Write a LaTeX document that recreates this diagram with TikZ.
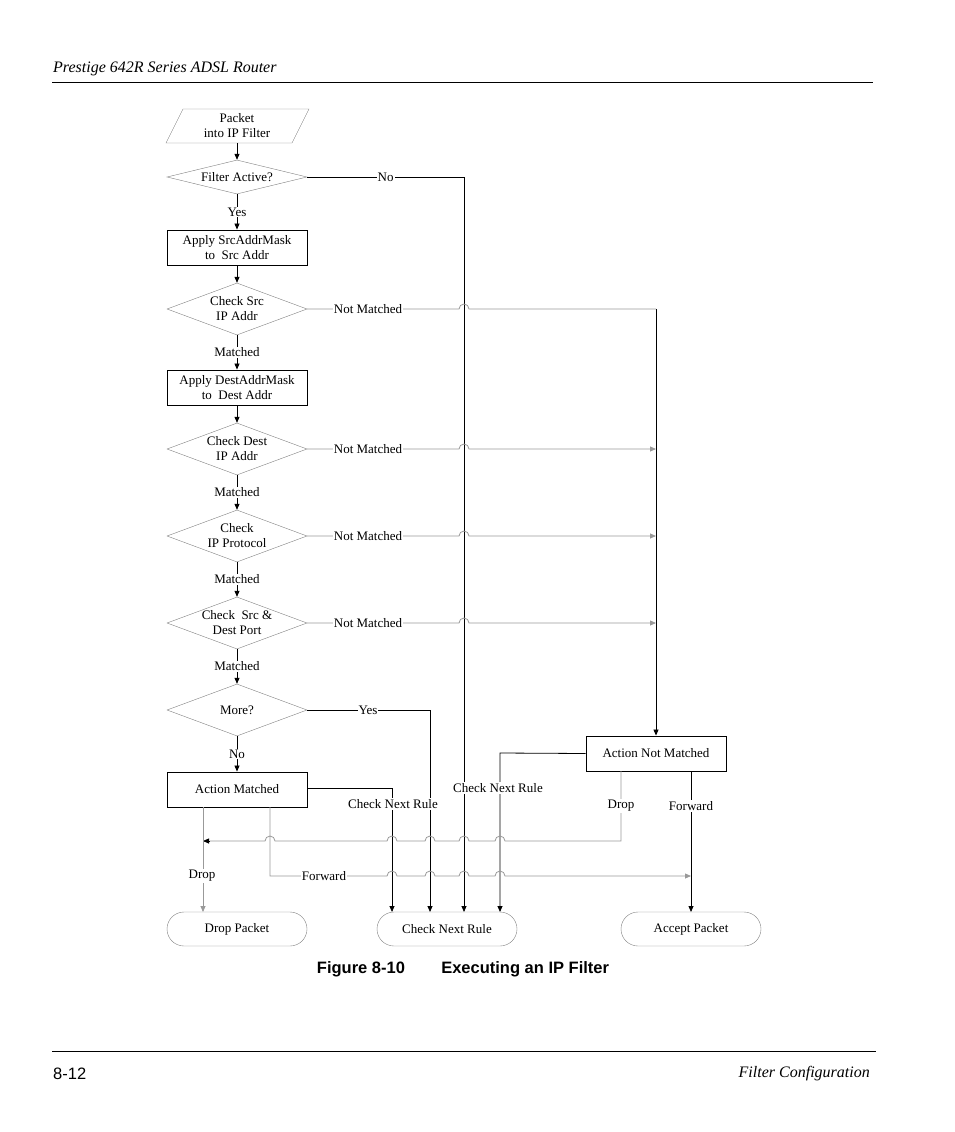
\documentclass[tikz,border=0pt]{standalone}
\usepackage{fontspec}
\setmainfont{Liberation Serif}
\newfontfamily\sansf{Liberation Sans}
\usetikzlibrary{arrows.meta,shapes.geometric}
\begin{document}
\begin{tikzpicture}[x=1pt,y=-1pt,
  every node/.style={font=\fontsize{13}{15}\selectfont, align=center, inner sep=1pt},
  box/.style={draw, line width=0.9pt, minimum width=140pt, minimum height=35pt},
  dia/.style={draw=gray, diamond, aspect=2.7, minimum width=140pt, inner sep=0pt},
  term/.style={draw=gray, rounded corners=17pt, minimum width=140pt, minimum height=34pt},
  lbl/.style={fill=white, inner sep=1pt},
  tip/.style={-{Triangle[length=6pt,width=5pt]}},
  ln/.style={line width=0.8pt},
  gl/.style={draw=gray!80, line width=0.8pt},
]
\useasboundingbox (0,0) rectangle (954,1132);
% header / footer
\node[anchor=west,font=\fontsize{16}{18}\selectfont\itshape] (hdr) at (52,69) {Prestige 642R Series ADSL Router};
\draw[line width=0.6pt] (52,82) coordinate (h1) -- (873,82) coordinate (h2);
\node[font=\sansf\bfseries\fontsize{16.5}{18}\selectfont] (cap) at (463,969) {Figure 8-10\hspace{2.2em}Executing an IP Filter};
\draw[line width=0.6pt] (52,1051) coordinate (f1) -- (876,1051) coordinate (f2);
\node[anchor=west,font=\sansf\fontsize{16.5}{18}\selectfont] (pg) at (52,1074) {8-12};
\node[anchor=east,font=\fontsize{16}{18}\selectfont\itshape] (ch) at (871,1074) {Filter Configuration};

% nodes
\draw[gray] (183,109) -- (309,109) -- (292,143) -- (166,143) -- cycle;
\node (pk) at (237,126) {Packet\\into IP Filter};
\coordinate (pkb) at (237,143);
\node[dia, minimum height=34pt, aspect=4.1] (fa) at (237,177) {Filter Active?};
\node[box] (b1) at (237,247.5) {Apply SrcAddrMask\\to~ Src Addr};
\node[dia, minimum height=52pt] (cs) at (237,309) {Check Src\\IP Addr};
\node[box] (b2) at (237,387.5) {Apply DestAddrMask\\to~ Dest Addr};
\node[dia, minimum height=52pt] (cd) at (237,449) {Check Dest\\IP Addr};
\node[dia, minimum height=52pt] (cp) at (237,536) {Check\\IP Protocol};
\node[dia, minimum height=52pt] (cpt) at (237,623) {Check~ Src \&\\Dest Port};
\node[dia, minimum height=52pt] (mo) at (237,710) {More?};
\node[box] (am) at (237,789.5) {Action Matched};
\node[box] (anm) at (656,753.5) {Action Not Matched};
\node[term] (dp) at (237,929) {Drop Packet};
\node[term] (cn) at (447,929) {Check Next Rule};
\node[term] (ap) at (691,929) {Accept Packet};

% vertical main flow
\draw[ln,tip] (pkb) -- (fa);
\draw[ln,tip] (fa) -- node[lbl]{Yes} (b1);
\draw[ln,tip] (b1) -- (cs);
\draw[ln,tip] (cs) -- node[lbl]{Matched} (b2);
\draw[ln,tip] (b2) -- (cd);
\draw[ln,tip] (cd) -- node[lbl]{Matched} (cp);
\draw[ln,tip] (cp) -- node[lbl]{Matched} (cpt);
\draw[ln,tip] (cpt) -- node[lbl]{Matched} (mo);
\draw[ln,tip] (mo) -- node[lbl]{No} (am);

% Filter Active No
\draw[ln,tip] (fa.east) -- node[lbl,pos=0.5]{No} (464,177) -- (464,912);
% Not matched lines
\draw[gl] (cs.east) -- (464-5,309) arc[start angle=180,end angle=360,radius=5] -- (656,309);
\draw[ln,tip] (656,309) -- (anm.north);
\node[lbl] (nm1) at (368,309) {Not Matched};
\foreach \yy/\nn in {449/cd,536/cp,623/cpt}{
  \draw[gl,tip] (\nn.east) -- (464-5,\yy) arc[start angle=180,end angle=360,radius=5] -- (656,\yy);
  \node[lbl] at (368,\yy) {Not Matched};
}
% More yes
\draw[ln,tip] (mo.east) -- (430,710) -- (430,912);
\node[lbl] (ys) at (368,710) {Yes};
% Action matched -> check next rule
\draw[ln,tip] (am.east|-{(0,788)}) -- (392,788) -- (392,912);
\node[lbl] (c1) at (393,804) {Check Next Rule};
% Action not matched -> check next rule
\draw[ln,tip] (anm.west) -- (500,753) -- (500,912);
\node[lbl] (c2) at (498,788) {Check Next Rule};
% ANM forward
\draw[ln,tip] (691,771) -- (691,912);
\node[lbl] (fw2) at (691,806) {Forward};
% ANM drop
\draw[gl] (621,771) -- (621,841) -- (505,841)
  arc[start angle=360,end angle=180,radius=5] -- (469,841)
  arc[start angle=360,end angle=180,radius=5] -- (435,841)
  arc[start angle=360,end angle=180,radius=5] -- (397,841)
  arc[start angle=360,end angle=180,radius=5] -- (275,841)
  arc[start angle=360,end angle=180,radius=5] -- (210,841);
\draw[ln,tip] (210,841) -- (203,841);
\node[lbl] (dr2) at (621,806) {Drop};
% AM drop
\draw[gl,tip] (203,807) -- (203,912);
\node[lbl] (dr1) at (202,876) {Drop};
% AM forward
\draw[gl,tip] (270,807) -- (270,876) -- (387,876)
  arc[start angle=180,end angle=360,radius=5] -- (425,876)
  arc[start angle=180,end angle=360,radius=5] -- (459,876)
  arc[start angle=180,end angle=360,radius=5] -- (495,876)
  arc[start angle=180,end angle=360,radius=5] -- (691,876);
\node[lbl] (fw1) at (324,876) {Forward};
\end{tikzpicture}
\end{document}
